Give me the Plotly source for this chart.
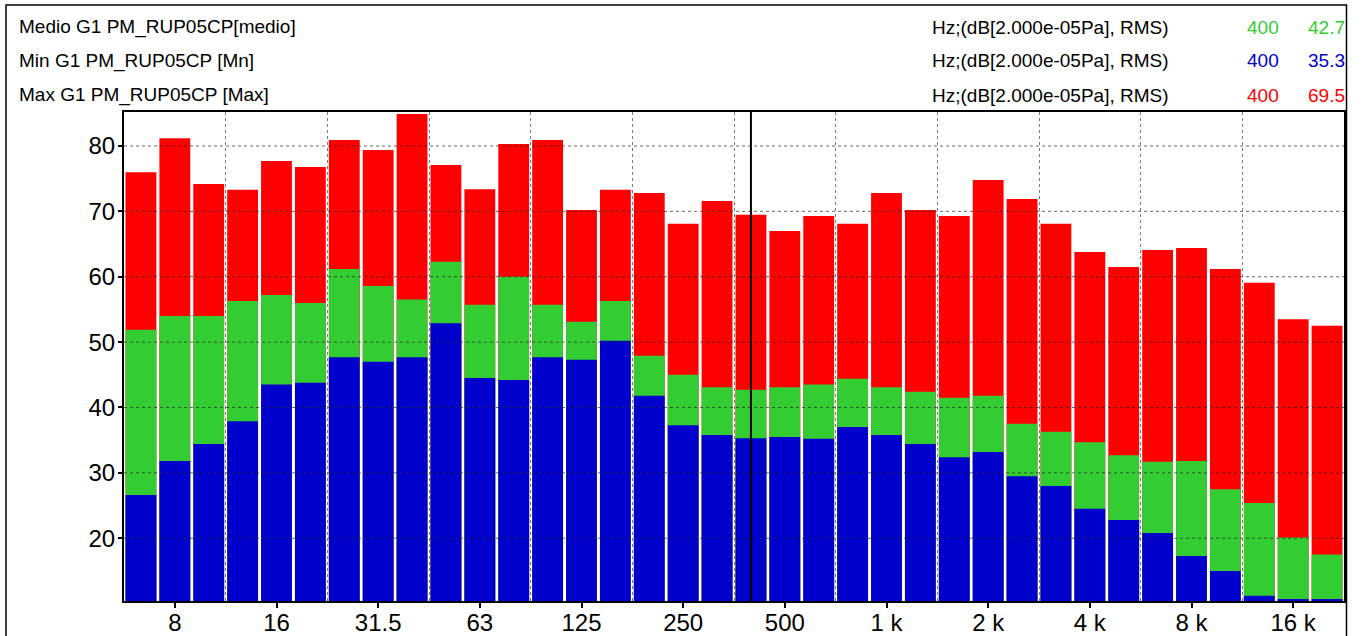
import plotly.graph_objects as go

# ---------------- data ----------------
bands = ["6.3", "8", "10", "12.5", "16", "20", "25", "31.5", "40", "50", "63", "80",
         "100", "125", "160", "200", "250", "315", "400", "500", "630", "800",
         "1 k", "1.25 k", "1.6 k", "2 k", "2.5 k", "3.15 k", "4 k", "5 k", "6.3 k",
         "8 k", "10 k", "12.5 k", "16 k", "20 k"]

max_vals = [76.0, 81.2, 74.2, 73.3, 77.7, 76.8, 80.9, 79.4, 84.9, 77.1, 73.4, 80.3,
            80.9, 70.2, 73.3, 72.8, 68.1, 71.6, 69.5, 67.0, 69.3, 68.1, 72.8, 70.2,
            69.3, 74.8, 71.9, 68.1, 63.8, 61.5, 64.1, 64.4, 61.2, 59.1, 53.5, 52.5]
mean_vals = [51.9, 54.0, 54.0, 56.3, 57.2, 56.0, 61.2, 58.6, 56.5, 62.3, 55.7, 60.0,
             55.7, 53.1, 56.3, 47.9, 45.0, 43.1, 42.7, 43.1, 43.5, 44.4, 43.1, 42.4,
             41.5, 41.8, 37.5, 36.3, 34.7, 32.7, 31.7, 31.8, 27.5, 25.4, 20.1, 17.5]
min_vals = [26.6, 31.8, 34.4, 37.9, 43.5, 43.8, 47.7, 47.0, 47.7, 52.9, 44.5, 44.2,
            47.7, 47.3, 50.2, 41.8, 37.3, 35.8, 35.3, 35.5, 35.2, 37.0, 35.8, 34.4,
            32.4, 33.2, 29.5, 28.0, 24.5, 22.8, 20.8, 17.3, 15.0, 11.2, 10.7, 10.7]

tick_labels = ["8", "16", "31.5", "63", "125", "250", "500", "1 k", "2 k", "4 k", "8 k", "16 k"]
y_ticks = [20, 30, 40, 50, 60, 70, 80]
cursor_band = "400"

series_names = ["Medio G1 PM_RUP05CP[medio]", "Min G1 PM_RUP05CP [Mn]", "Max G1 PM_RUP05CP [Max]"]
unit_text = "Hz;(dB[2.000e-05Pa], RMS)"

# ---------------- style ----------------
RED = "rgb(255,0,0)"
GREEN = "rgb(51,204,51)"
BLUE = "rgb(0,0,204)"
FONT = "Liberation Sans, Arial, sans-serif"

W, H = 1362, 636
L, R, T, B = 124, 1344, 112, 601  # plot area in pixels


def px(x):
    return (x - L) / (R - L)


def py(y):
    return (B - y) / (B - T)


xs = list(range(len(bands)))
fig = go.Figure()
for vals, col, name in [(max_vals, RED, "Max"), (mean_vals, GREEN, "Medio"), (min_vals, BLUE, "Min")]:
    fig.add_trace(go.Bar(x=xs, y=vals, marker=dict(color=col, line=dict(width=0)),
                         name=name, showlegend=False, hoverinfo="skip"))

tickvals = [bands.index(t) for t in tick_labels]

fig.update_layout(
    width=W, height=H, autosize=False,
    margin=dict(l=L, r=W - R, t=T, b=H - B, pad=0, autoexpand=False),
    barmode="overlay", bargap=0.09,
    plot_bgcolor="white", paper_bgcolor="white",
    font=dict(family=FONT, color="black"),
)
fig.update_xaxes(
    range=[-0.5, len(bands) - 0.5], automargin=False,
    tickmode="array", tickvals=tickvals, ticktext=tick_labels,
    ticks="outside", ticklen=5, tickwidth=2, tickcolor="black",
    tickfont=dict(size=24, family=FONT), ticklabelstandoff=-6,
    showgrid=False, zeroline=False,
    showline=True, linecolor="black", linewidth=2, mirror=True,
    minor=dict(tick0=2.5, dtick=3, showgrid=True, gridcolor="rgba(90,90,90,0.8)",
               griddash="dot", gridwidth=1, ticks=""),
)
fig.update_yaxes(
    range=[10.4, 85.2], automargin=False,
    tickmode="array", tickvals=y_ticks,
    ticks="outside", ticklen=4, tickwidth=2, tickcolor="black",
    tickfont=dict(size=24, family=FONT), ticklabelstandoff=-2,
    showgrid=False, zeroline=False,
    showline=True, linecolor="black", linewidth=2, mirror=True,
)

shapes = []
# horizontal grid lines drawn over the bars
for v in y_ticks:
    shapes.append(dict(type="line", xref="paper", yref="y", x0=0, x1=1, y0=v, y1=v,
                       line=dict(color="rgba(40,40,40,0.7)", width=1, dash="dot"),
                       layer="above"))
# cursor
ci = bands.index(cursor_band)
shapes.append(dict(type="line", xref="x", yref="paper", x0=ci, x1=ci, y0=0, y1=1,
                   line=dict(color="black", width=2), layer="above"))
# outer frame
shapes.append(dict(type="rect", xref="paper", yref="paper",
                   x0=px(6), x1=px(1346.5), y0=py(645), y1=py(5),
                   line=dict(color="black", width=1.5), fillcolor="rgba(0,0,0,0)", layer="below"))
fig.update_layout(shapes=shapes)

# header annotations
rows = [(series_names[0], GREEN, mean_vals), (series_names[1], BLUE, min_vals),
        (series_names[2], RED, max_vals)]
row_y = [27, 61, 95]
ann = []
for (name, col, vals), yy in zip(rows, row_y):
    ann.append(dict(text=name, x=px(17), y=py(yy), xref="paper", yref="paper",
                    xanchor="left", yanchor="middle", showarrow=False,
                    font=dict(size=19, color="black", family=FONT)))
    ann.append(dict(text=unit_text, x=px(930), y=py(yy), xref="paper", yref="paper",
                    xanchor="left", yanchor="middle", showarrow=False,
                    font=dict(size=19, color="black", family=FONT)))
    ann.append(dict(text=cursor_band, x=px(1281), y=py(yy), xref="paper", yref="paper",
                    xanchor="right", yanchor="middle", showarrow=False,
                    font=dict(size=19, color=col, family=FONT)))
    ann.append(dict(text=f"{vals[ci]:.1f}", x=px(1347), y=py(yy), xref="paper", yref="paper",
                    xanchor="right", yanchor="middle", showarrow=False,
                    font=dict(size=19, color=col, family=FONT)))
fig.update_layout(annotations=ann)

fig.write_html("out.html", config={"displayModeBar": False},
               post_script="document.body.style.margin='0px';document.body.style.overflow='hidden';")
